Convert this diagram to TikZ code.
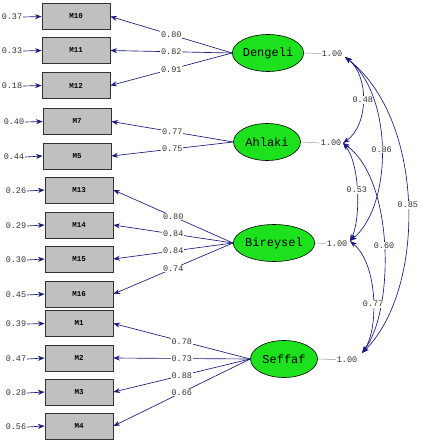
\documentclass[tikz,border=0pt]{standalone}
\usepackage{fontspec}
\setmainfont{Liberation Mono}
\usetikzlibrary{shapes.geometric,arrows.meta}
\definecolor{navy}{RGB}{25,25,125}
\definecolor{boxgray}{RGB}{192,192,192}
\definecolor{latgreen}{RGB}{30,225,30}
\tikzset{
  obs/.style={draw=black!80,line width=0.9pt,fill=boxgray,minimum width=68pt,minimum height=26pt,inner sep=0pt,font=\fontsize{7.5}{8}\selectfont\bfseries},
  lat/.style={ellipse,draw=black,line width=0.6pt,fill=latgreen,minimum width=67pt,minimum height=37pt,inner sep=0pt,font=\fontsize{12}{13}\selectfont},
  num/.style={font=\fontsize{8.5}{9}\selectfont,text=black!80,inner sep=0.8pt},
  lbl/.style={num,fill=white},
  load/.style={navy,line width=0.65pt,-{Stealth[length=6.5pt,width=5pt]}},
  cov/.style={navy,line width=0.65pt,{Stealth[length=7pt,width=5pt]}-{Stealth[length=7pt,width=5pt]}},
  varl/.style={black!40,line width=0.5pt}
}
\begin{document}
\begin{tikzpicture}[x=1pt,y=-1pt]
\useasboundingbox (0,0) rectangle (420,443);
% observed boxes
\node[obs] (M10) at (76,16.5) {M10};
\node[obs] (M11) at (76,50.5) {M11};
\node[obs] (M12) at (76,85.5) {M12};
\node[obs] (M7) at (77,121.5) {M7};
\node[obs] (M5) at (77,156) {M5};
\node[obs] (M13) at (79,190) {M13};
\node[obs] (M14) at (79,225) {M14};
\node[obs] (M15) at (79,259) {M15};
\node[obs] (M16) at (79,294) {M16};
\node[obs] (M1) at (79,323.5) {M1};
\node[obs] (M2) at (79,358) {M2};
\node[obs] (M3) at (79,392) {M3};
\node[obs] (M4) at (79,426) {M4};
% error labels
\node[num] (e10) at (12,17) {0.37};
\node[num] (e11) at (12,51) {0.33};
\node[num] (e12) at (12,86) {0.18};
\node[num] (e7) at (14,122) {0.40};
\node[num] (e5) at (14,157) {0.44};
\node[num] (e13) at (16,191) {0.26};
\node[num] (e14) at (16,226) {0.29};
\node[num] (e15) at (16,260) {0.30};
\node[num] (e16) at (16,295) {0.45};
\node[num] (e1) at (16,324) {0.39};
\node[num] (e2) at (16,359) {0.47};
\node[num] (e3) at (16,393) {0.28};
\node[num] (e4) at (16,427) {0.56};
\foreach \m in {10,11,12,7,5,13,14,15,16,1,2,3,4}
  \draw[load] (e\m.east) -- (M\m.west);
% latent
\node[lat] (D) at (268,53) {Dengeli};
\node[lat] (A) at (267,142) {Ahlaki};
\node[lat] (B) at (274,243) {Bireysel};
\node[lat] (S) at (284,359) {Seffaf};
% loadings
\draw[load] (D.west) -- node[lbl]{0.80} (M10.east);
\draw[load] (D.west) -- node[lbl]{0.82} (M11.east);
\draw[load] (D.west) -- node[lbl]{0.91} (M12.east);
\draw[load] (A.west) -- node[lbl]{0.77} (M7.east);
\draw[load] (A.west) -- node[lbl]{0.75} (M5.east);
\draw[load] (B.west) -- node[lbl]{0.80} (M13.east);
\draw[load] (B.west) -- node[lbl]{0.84} (M14.east);
\draw[load] (B.west) -- node[lbl]{0.84} (M15.east);
\draw[load] (B.west) -- node[lbl]{0.74} (M16.east);
\draw[load] (S.west) -- node[lbl]{0.78} (M1.east);
\draw[load] (S.west) -- node[lbl]{0.73} (M2.east);
\draw[load] (S.west) -- node[lbl]{0.88} (M3.east);
\draw[load] (S.west) -- node[lbl]{0.66} (M4.east);
% variances
\node[num] (vD) at (332,53.5) {1.00};
\node[num] (vA) at (331,143) {1.00};
\node[num] (vB) at (337,243.5) {1.00};
\node[num] (vS) at (347,359.5) {1.00};
\draw[varl] (D.east) -- (vD.west);
\draw[varl] (A.east) -- (vA.west);
\draw[varl] (B.east) -- (vB.west);
\draw[varl] (S.east) -- (vS.west);
% covariance endpoints
\coordinate (cD) at (345,57);
\coordinate (cA) at (343,143);
\coordinate (cB) at (350,241);
\coordinate (cS) at (362,353);
\draw[cov] (cD) .. controls (369,75) and (369,125) .. node[lbl,pos=0.5]{0.48} (cA);
\draw[cov] (cD) .. controls (393,95) and (393,205) .. node[lbl,pos=0.5]{0.86} (cB);
\draw[cov] (cD) .. controls (426,120) and (426,290) .. node[lbl,pos=0.5]{0.85} (cS);
\draw[cov] (cA) .. controls (360.5,165) and (360.5,220) .. node[lbl,pos=0.48]{0.53} (cB);
\draw[cov] (cA) .. controls (394.5,180) and (394.5,310) .. node[lbl,pos=0.5]{0.60} (cS);
\draw[cov] (cB) .. controls (378.5,265) and (378.5,330) .. node[lbl,pos=0.55]{0.77} (cS);
\end{tikzpicture}
\end{document}
